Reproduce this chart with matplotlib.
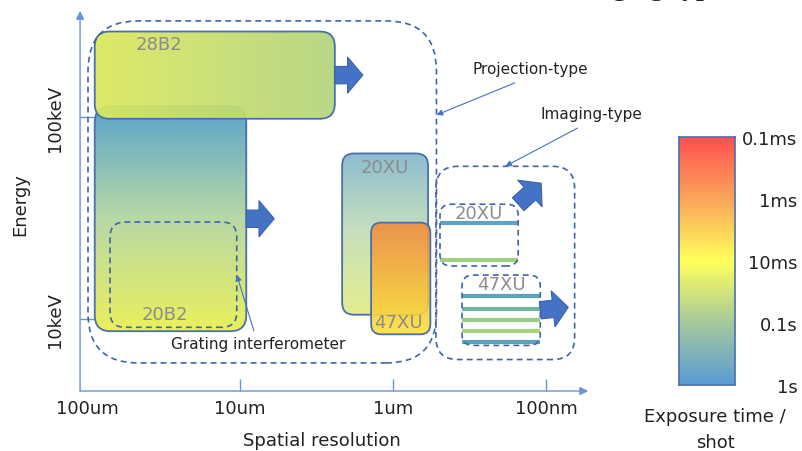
import numpy as np
import matplotlib
matplotlib.use("Agg")
import matplotlib.pyplot as plt
from matplotlib.patches import FancyBboxPatch
from matplotlib.colors import LinearSegmentedColormap, LogNorm
from matplotlib.ticker import NullLocator

# ============================== Data =========================================
# spatial resolution in um, X-ray energy in keV
proj_names = ["28B2", "20B2", "20XU", "47XU"]
proj_res = [(2.4, 89.0), (9.1, 89.0), (0.59, 2.15), (0.57, 1.39)]
proj_energy = [(98.0, 265.0), (8.7, 113.0), (10.5, 66.0), (8.4, 30.0)]

grating_res = (10.5, 70.7)
grating_energy = (9.1, 30.2)

projection_res = (0.52, 98.5)
projection_energy = (6.06, 299.0)

imaging_res = (0.065, 0.524)
imaging_energy = (6.3, 57.0)

img_names = ["20XU", "47XU"]
img_res = [(0.152, 0.493), (0.109, 0.354)]
img_energy = [(18.3, 37.0), (7.4, 16.5)]
img_lines = [[29.9, 19.6], [13.0, 11.2, 9.9, 8.7, 7.7]]

axis_res = (111.0, 0.053)
axis_energy = (4.4, 335.0)

res_ticks = [100, 10, 1, 0.1]
res_labels = ["100um", "10um", "1um", "100nm"]
energy_ticks = [10, 100]
energy_labels = ["10keV", "100keV"]

exp_ticks = [1e-4, 1e-3, 1e-2, 1e-1, 1]
exp_labels = ["0.1ms", "1ms", "10ms", "0.1s", "1s"]
exp_colors = ["#ff4f50", "#fba65a", "#ffff5a", "#a5c99b", "#5b9bd5"]

# ============================== Helpers ======================================
PXX, PXY = 153, 202          # pixels per decade (x, y)
ASP = PXX / PXY
EDGE = "#4a70aa"
DASH = "#3f64a8"
BLUE = "#4472c4"
AXC = "#6a92d8"
GRAY = "#8c8c8c"


def fx(r):
    return np.log10(np.asarray(r, dtype=float) * 1000.0)   # log10(nm)


def fy(e):
    return np.log10(np.asarray(e, dtype=float))


def rbox(res, en, r_px, **kw):
    x0, x1 = sorted(fx(res))
    y0, y1 = sorted(fy(en))
    return FancyBboxPatch((x0, y0), x1 - x0, y1 - y0,
                          boxstyle=f"round,pad=0,rounding_size={r_px / PXX}",
                          mutation_aspect=ASP, **kw)


def grad_box(res, en, r_px, colors, horizontal=False, alpha=1.0, z=2):
    p = rbox(res, en, r_px, fc="none", ec=EDGE, lw=1.3, zorder=z + 0.1)
    ax.add_patch(p)
    cm = LinearSegmentedColormap.from_list("g", colors)
    t = np.linspace(0, 1, 256)
    cols = cm(t)
    img = cols[None, :, :] if horizontal else cols[:, None, :]
    xs = fx(res)
    ys = fy(en)
    im = ax.imshow(img, extent=[xs.max(), xs.min(), ys.min(), ys.max()],
                   aspect="auto", origin="upper", interpolation="bilinear",
                   alpha=alpha, zorder=z)
    im.set_clip_path(p)
    return p


def dash_box(res, en, r_px, z=5, lw=1.2):
    ax.add_patch(rbox(res, en, r_px, fc="none", ec=DASH, lw=lw,
                      ls=(0, (3.5, 2.5)), zorder=z))


def block_arrow(x, y, dx_px, dy_px):
    ax.annotate("", xy=(x - dx_px / PXX, y - dy_px / PXY), xytext=(x, y),
                arrowprops=dict(arrowstyle="simple,head_length=1.1,head_width=2.6,tail_width=1.25",
                                mutation_scale=10, fc=BLUE, ec="#3b63ad", lw=0.8,
                                shrinkA=0, shrinkB=0), zorder=6)


# ============================== Figure =======================================
fig = plt.figure(figsize=(8.02, 4.52), dpi=100)
ax = fig.add_axes([0, 0, 1, 1])
ax.axis("off")

# projection beamlines
grad_box(proj_res[1], proj_energy[1], 16, ["#5aa5ca", "#b8d8a6", "#eaf05c"], z=2)
grad_box(proj_res[0], proj_energy[0], 15, ["#dce95c", "#b3d47f"], horizontal=True, alpha=0.93, z=3)
grad_box(proj_res[2], proj_energy[2], 12, ["#8dbdd0", "#c8e0bc", "#e4ee8e"], z=2)
grad_box(proj_res[3], proj_energy[3], 10, ["#f08a40", "#fbe23b"], alpha=0.9, z=3)

ax.annotate(proj_names[0], xy=(fx(proj_res[0][1]), fy(proj_energy[0][1])), xytext=(41, -12),
            textcoords="offset pixels", ha="left", va="center", fontsize=13, color=GRAY, zorder=7)
ax.annotate(proj_names[1], xy=(fx(proj_res[1][1]), fy(proj_energy[1][0])), xytext=(70, 17),
            textcoords="offset pixels", ha="center", va="center", fontsize=13, color=GRAY, zorder=7)
ax.annotate(proj_names[2], xy=(fx(proj_res[2]).mean(), fy(proj_energy[2][1])), xytext=(0, -14),
            textcoords="offset pixels", ha="center", va="center", fontsize=13, color=GRAY, zorder=7)
ax.annotate(proj_names[3], xy=(fx(proj_res[3]).mean(), fy(proj_energy[3][0])), xytext=(-2, 12),
            textcoords="offset pixels", ha="center", va="center", fontsize=13, color=GRAY, zorder=7)

# extension arrows
block_arrow(fx(proj_res[0][0]), fy(proj_energy[0]).mean(), 28, 0)
block_arrow(fx(proj_res[1][0]), fy(proj_energy[1]).mean(), 28, 0)

# dashed groups
dash_box(grating_res, grating_energy, 15)
dash_box(projection_res, projection_energy, 50)
dash_box(imaging_res, imaging_energy, 22)

# imaging beamlines
line_cols = [["#5ba3c8", "#9dcf80"],
             ["#5aa3bd", "#73b3a4", "#97cb8a", "#a5d27b", "#5aa3bd"]]
for i in range(2):
    dash_box(img_res[i], img_energy[i], 11)
    ax.hlines(fy(img_lines[i]), fx(img_res[i][1]), fx(img_res[i][0]),
              colors=line_cols[i], lw=3, zorder=4)
    ax.annotate(img_names[i], xy=(fx(img_res[i]).mean(), fy(img_energy[i][1])),
                xytext=(0, -9), textcoords="offset pixels", ha="center", va="center",
                fontsize=13, color=GRAY, zorder=7)

block_arrow(fx(img_res[0][0]), fy(img_energy[0][1]), 23, -21)
block_arrow(fx(img_res[1][0]), fy(img_energy[1]).mean(), 28, -3)

# annotations
thin = dict(arrowstyle="-|>", color=BLUE, lw=0.8, mutation_scale=9, shrinkB=0)
ax.annotate("Grating interferometer", xy=(fx(grating_res[0]), fy(grating_energy).mean()),
            xytext=(21, -69), textcoords="offset pixels", ha="center", va="center",
            fontsize=11, color="#222222", arrowprops=dict(thin, shrinkA=2), zorder=7)
ax.annotate("Projection-type", xy=(fx(projection_res[0]), fy(100 * 10 ** 0.01)),
            xytext=(94, 46), textcoords="offset pixels", ha="center", va="center",
            fontsize=11, color="#222222",
            arrowprops=dict(thin, relpos=(0.5, 0), shrinkA=7), zorder=7)
ax.annotate("Imaging-type", xy=(fx(imaging_res).mean(), fy(imaging_energy[1])),
            xytext=(86, 53), textcoords="offset pixels", ha="center", va="center",
            fontsize=11, color="#222222",
            arrowprops=dict(thin, relpos=(0.5, 0), shrinkA=7), zorder=7)

# axes
x0a, x1a = fx(axis_res)
y0a, y1a = fy(axis_energy)
axarrow = dict(arrowstyle="-|>", color=AXC, lw=1, mutation_scale=12, shrinkA=0, shrinkB=0)
ax.annotate("", xy=(x1a, y0a), xytext=(x0a, y0a), arrowprops=axarrow)
ax.annotate("", xy=(x0a, y1a), xytext=(x0a, y0a), arrowprops=axarrow)
ax.plot(fx(res_ticks[1:]), [y0a] * 3, ls="none", marker=2, ms=9, mew=1, color=AXC)
ax.plot([x0a] * 2, fy(energy_ticks), ls="none", marker=1, ms=10, mew=1, color=AXC)
for r, lab in zip(res_ticks, res_labels):
    ax.annotate(lab, xy=(fx(r), y0a), xytext=(0, -17), textcoords="offset pixels",
                ha="center", va="center", fontsize=13, color="#222222")
for e, lab in zip(energy_ticks, energy_labels):
    ax.annotate(lab, xy=(x0a, fy(e)), xytext=(-25, 0), textcoords="offset pixels",
                ha="center", va="center", fontsize=13, rotation=90, color="#222222")

fig.text(20 / 802, 1 - 205 / 452, "Energy", rotation=90, ha="center", va="center",
         fontsize=13, color="#222222")
fig.text(322 / 802, 1 - 441 / 452, "Spatial resolution", ha="center", va="center",
         fontsize=13, color="#222222")

ax.set_xlim(5 + 87 / PXX, 5 - 715 / PXX)
ax.set_ylim(2 - 334 / PXY, 2 + 118 / PXY)

# cut-off heading at the top edge (only its descenders show in the reference)
fig.text(565 / 802, 1 + 5 / 452, "Imaging-type", ha="left", va="baseline",
         fontsize=20, family="Liberation Serif", weight="bold", color="#222222")

# ============================== Colour bar ===================================
cmap = LinearSegmentedColormap.from_list("exp", exp_colors)
cax = fig.add_axes([679 / 802, 1 - 386 / 452, 56 / 802, 248 / 452])
t = np.logspace(-4, 0, 257)
cax.pcolormesh([0, 1], t, np.sqrt(t[:-1] * t[1:])[:, None], cmap=cmap,
               norm=LogNorm(1e-4, 1), shading="flat")
cax.set_yscale("log")
cax.set_ylim(1, 1e-4)
cax.set_xlim(0, 1)
cax.set_xticks([])
cax.yaxis.tick_right()
cax.set_yticks(exp_ticks, exp_labels)
cax.yaxis.set_minor_locator(NullLocator())
cax.tick_params(axis="y", length=0, pad=45, labelsize=13, labelcolor="#222222")
for lab in cax.get_yticklabels():
    lab.set_ha("right")
for s in cax.spines.values():
    s.set_color(EDGE)
    s.set_linewidth(1.2)

fig.text(715 / 802, 1 - 417 / 452, "Exposure time /", ha="center", va="center",
         fontsize=13, color="#222222")
fig.text(715 / 802, 1 - 443 / 452, "shot", ha="center", va="center",
         fontsize=13, color="#222222")

fig.savefig("out.png", dpi=100)
